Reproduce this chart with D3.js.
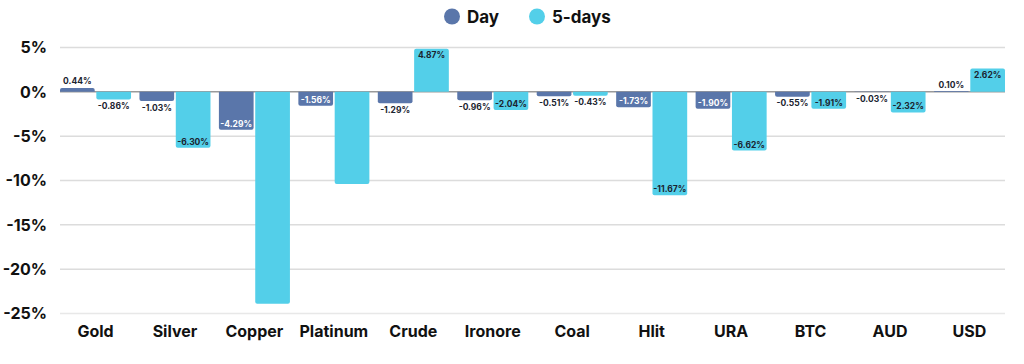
<!DOCTYPE html>
<html>
<head>
<meta charset="utf-8">
<script src="https://cdn.jsdelivr.net/npm/d3@7"></script>
<style>
  body { margin: 0; background: #fff; }
  svg { display: block; font-family: Inter, "Open Sans", sans-serif; }
</style>
</head>
<body>
<svg id="chart" width="1024" height="364"></svg>
<script>
// Data
var categories = ["Gold", "Silver", "Copper", "Platinum", "Crude", "Ironore", "Coal", "Hlit", "URA", "BTC", "AUD", "USD"];
var seriesNames = ["Day", "5-days"];
var dayValues = [0.44, -1.03, -4.29, -1.56, -1.29, -0.96, -0.51, -1.73, -1.90, -0.55, -0.03, 0.10];
var fiveDayValues = [-0.86, -6.30, -23.90, -10.40, 4.87, -2.04, -0.43, -11.67, -6.62, -1.91, -2.32, 2.62];
var yTicks = [5, 0, -5, -10, -15, -20, -25];
// bars whose value label is not shown in the reference
var unlabelled = ["Copper|5-days", "Platinum|5-days"];

var colors = { "Day": "#5a76aa", "5-days": "#53cfe9" };

var svg = d3.select("#chart");

var x = d3.scaleBand().domain(categories).range([60, 1005]).paddingInner(0.106).paddingOuter(0);
var xSub = d3.scaleBand().domain(seriesNames).range([0, x.bandwidth()]).paddingInner(0.045);
var y = d3.scaleLinear().domain([-25, 5]).range([313.5, 47.5]);

// Grid lines
svg.append("g").attr("class", "grid")
    .selectAll("line").data(yTicks).join("line")
    .attr("x1", 60).attr("x2", 1005)
    .attr("y1", function (d) { return y(d); })
    .attr("y2", function (d) { return y(d); })
    .attr("stroke", function (d) { return d === 0 ? "#9a9a9a" : (d === -25 ? "#e8e8e8" : "#dcdcdc"); })
    .attr("stroke-width", 1.5);

// Y axis labels
svg.append("g").attr("class", "y-labels")
    .selectAll("text").data(yTicks).join("text")
    .attr("x", 47).attr("y", function (d) { return y(d); })
    .attr("dy", "0.36em")
    .attr("text-anchor", "end")
    .attr("font-size", 16).attr("font-weight", 700).attr("fill", "#111")
    .text(function (d) { return d + "%"; });

// X axis labels
svg.append("g").attr("class", "x-labels")
    .selectAll("text").data(categories).join("text")
    .attr("x", function (d) { return x(d) + x.bandwidth() / 2; })
    .attr("y", 331).attr("dy", "0.36em")
    .attr("text-anchor", "middle")
    .attr("font-size", 16).attr("font-weight", 700).attr("fill", "#111")
    .text(function (d) { return d; });

var rows = [];
categories.forEach(function (c, i) {
    rows.push({ cat: c, series: "Day", value: dayValues[i] });
    rows.push({ cat: c, series: "5-days", value: fiveDayValues[i] });
});

// Bar path with rounded corners at the value end only
function barPath(d) {
    var x0 = x(d.cat) + xSub(d.series), w = xSub.bandwidth();
    var y0 = y(0), y1 = y(d.value);
    var r = Math.min(2, Math.abs(y1 - y0) / 2);
    var s = y1 < y0 ? 1 : -1; // direction from end back to base
    return "M" + x0 + "," + y0 +
        "L" + x0 + "," + (y1 + s * r) +
        "Q" + x0 + "," + y1 + "," + (x0 + r) + "," + y1 +
        "L" + (x0 + w - r) + "," + y1 +
        "Q" + (x0 + w) + "," + y1 + "," + (x0 + w) + "," + (y1 + s * r) +
        "L" + (x0 + w) + "," + y0 + "Z";
}

svg.append("g").attr("class", "bars")
    .selectAll("path").data(rows).join("path")
    .attr("d", barPath)
    .attr("fill", function (d) { return colors[d.series]; });

// Value labels: inside the bar end when the bar is big enough, else outside
var labelled = rows.filter(function (d) { return unlabelled.indexOf(d.cat + "|" + d.series) < 0; });
svg.append("g").attr("class", "value-labels")
    .selectAll("text").data(labelled).join("text")
    .attr("x", function (d) { return x(d.cat) + xSub(d.series) + xSub.bandwidth() / 2; })
    .attr("y", function (d) {
        var inside = Math.abs(d.value) >= 1.5;
        var dir = d.value >= 0 ? -1 : 1;
        return y(d.value) + (inside ? -dir * 6 : dir * 6.5);
    })
    .attr("dy", "0.36em")
    .attr("text-anchor", "middle")
    .attr("font-size", 8.5).attr("font-weight", 700)
    .attr("fill", function (d) {
        var inside = Math.abs(d.value) >= 1.5;
        return inside && d.series === "Day" ? "#fff" : "#1b2430";
    })
    .text(function (d) { return d.value.toFixed(2) + "%"; });

// Legend
var legend = svg.append("g").attr("class", "legend");
var legendX = [452, 537];
seriesNames.forEach(function (name, i) {
    legend.append("circle")
        .attr("cx", legendX[i]).attr("cy", 16.5).attr("r", 8)
        .attr("fill", colors[name]);
    legend.append("text")
        .attr("x", legendX[i] + 15).attr("y", 16.5).attr("dy", "0.36em")
        .attr("font-size", 17).attr("font-weight", 700).attr("fill", "#111")
        .text(name);
});
</script>
</body>
</html>
